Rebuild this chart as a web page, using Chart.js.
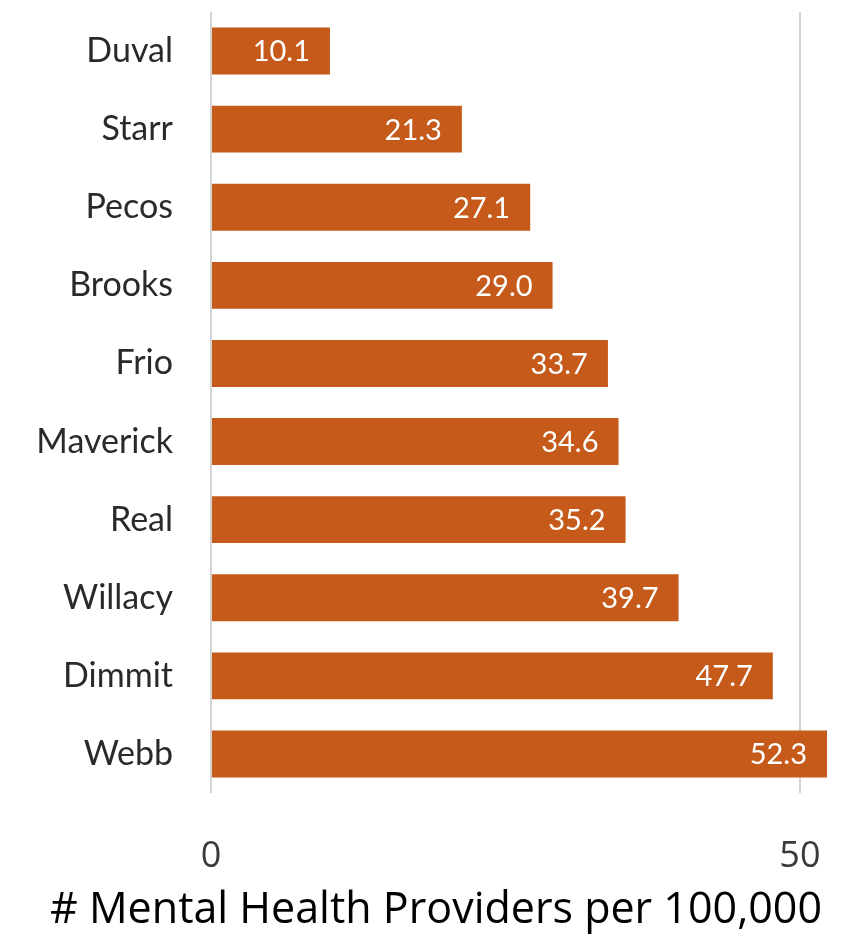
<!DOCTYPE html>
<html>
<head>
<meta charset="utf-8">
<script src="https://cdn.jsdelivr.net/npm/chart.js"></script>
<style>
  html, body { margin: 0; padding: 0; background: #ffffff; }
  #wrap { width: 848px; height: 945px; position: relative; }
</style>
</head>
<body>
<div id="wrap"><canvas id="providersChart"></canvas></div>
<script>
// Dados do gráfico
const counties = ['Duval', 'Starr', 'Pecos', 'Brooks', 'Frio', 'Maverick', 'Real', 'Willacy', 'Dimmit', 'Webb'];
const providersPer100k = [10.1, 21.3, 27.1, 29.0, 33.7, 34.6, 35.2, 39.7, 47.7, 52.3];
const xTicks = [0, 50];
const xTitle = '# Mental Health Providers per 100,000';

const barColor = '#c55a1a';

// Rótulos de valor dentro das barras
const valueLabels = {
    id: 'valueLabels',
    afterDatasetsDraw(chart) {
        const ctx = chart.ctx;
        const meta = chart.getDatasetMeta(0);
        ctx.save();
        ctx.font = '29px Lato';
        ctx.fillStyle = '#ffffff';
        ctx.textAlign = 'right';
        ctx.textBaseline = 'middle';
        meta.data.forEach((bar, i) => {
            ctx.fillText(providersPer100k[i].toFixed(1), bar.x - 20, bar.y + 1);
        });
        ctx.restore();
    }
};

// Título do eixo x (um pouco deslocado do centro, como no original)
const bottomTitle = {
    id: 'bottomTitle',
    afterDraw(chart) {
        const ctx = chart.ctx;
        ctx.save();
        ctx.font = '43px "Open Sans"';
        ctx.fillStyle = '#000000';
        ctx.textAlign = 'center';
        ctx.textBaseline = 'middle';
        ctx.fillText(xTitle, 436, chart.height - 34);
        ctx.restore();
    }
};

// zera o padding extra que os eixos pedem ao layout
function noPadding(scale) {
    scale.paddingTop = 0;
    scale.paddingBottom = 0;
    scale.paddingLeft = 0;
    scale.paddingRight = 0;
}

const ctx = document.getElementById('providersChart').getContext('2d');
new Chart(ctx, {
    type: 'bar',
    data: {
        labels: counties,
        datasets: [{
            data: providersPer100k,
            backgroundColor: barColor,
            borderWidth: 0,
            barPercentage: 0.6,
            categoryPercentage: 1.0
        }]
    },
    options: {
        indexAxis: 'y',
        responsive: true,
        maintainAspectRatio: false,
        animation: false,
        layout: {
            padding: { left: 0, right: 21, top: 12, bottom: 0 }
        },
        plugins: {
            legend: { display: false },
            tooltip: { enabled: false }
        },
        scales: {
            x: {
                min: 0,
                max: 52.3,
                afterBuildTicks: (scale) => {
                    scale.ticks = xTicks.map(v => ({ value: v }));
                },
                afterFit: (scale) => { scale.height = 152; noPadding(scale); },
                border: { display: false },
                grid: {
                    color: '#d4d4d4',
                    lineWidth: 2,
                    drawTicks: false
                },
                ticks: {
                    padding: 42,
                    color: '#3a3a3a',
                    font: { family: 'Open Sans', size: 36 }
                }
            },
            y: {
                afterFit: (scale) => { scale.width = 211; noPadding(scale); },
                border: { display: false },
                grid: { display: false, drawTicks: false },
                ticks: {
                    padding: 38,
                    color: '#2a2a2a',
                    font: { family: 'Lato', size: 34 }
                }
            }
        }
    },
    plugins: [valueLabels, bottomTitle]
});
</script>
</body>
</html>
